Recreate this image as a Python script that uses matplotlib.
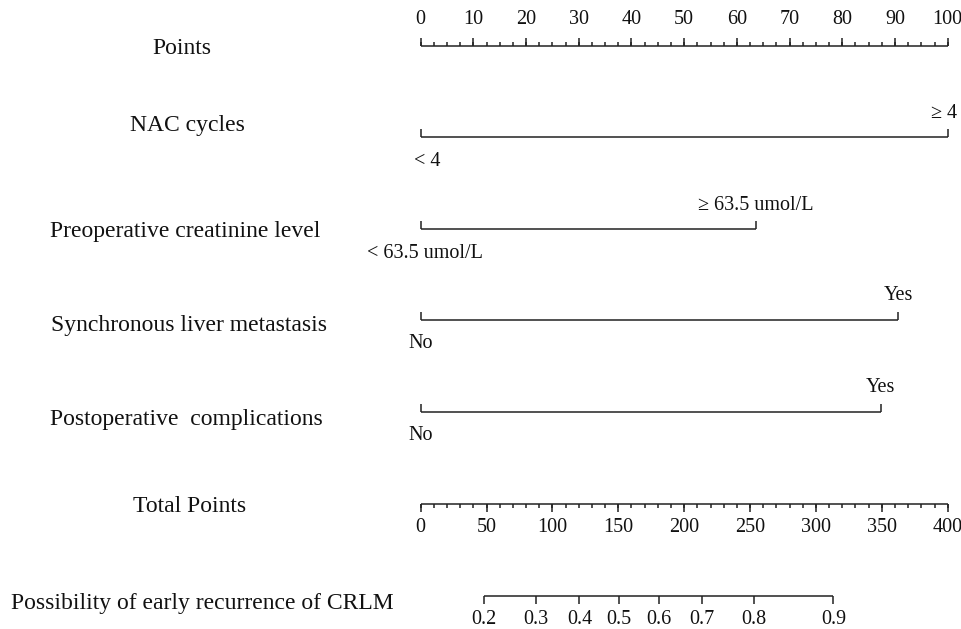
import numpy as np
import matplotlib
matplotlib.use("Agg")
import matplotlib.pyplot as plt

plt.rcParams['font.family'] = ['Liberation Serif', 'DejaVu Serif']

# ---------------- data ----------------
points_ticks = np.arange(0, 101, 10)
points_minor = np.arange(0, 100.1, 2.5)
total_ticks = np.arange(0, 401, 50)
total_minor = np.arange(0, 401, 10)
prob_ticks = [0.2, 0.3, 0.4, 0.5, 0.6, 0.7, 0.8, 0.9]

variables = ["NAC cycles", "Preoperative creatinine level",
             "Synchronous liver metastasis", "Postoperative  complications"]
level_low = ["< 4", "< 63.5 umol/L", "No", "No"]
level_high = ["\u2265 4", "\u2265 63.5 umol/L", "Yes", "Yes"]
points_low = [0, 0, 0, 0]
points_high = [100, 63.6, 90.6, 87.3]

# total points at p = 0.5 and total points per logit unit
lp_center = 150.5
lp_per_logit = 74.06

# ---------------- layout ----------------
W, H = 962, 629
X0, S = 420.7, 5.27          # pixel of 0 points, pixels per point
row_y = [46, 137, 229, 320, 412, 504, 596]
label_y = [48, 125, 231, 326, 420, 506, 603]
label_x = [182, 187, 185, 189.5, 186, 190, 202]
low_dx = [7, 4, 0, 0]
high_dx = [-4, 0, 0, 0]

def px2x(px):
    return (px - X0) / S

fig = plt.figure(figsize=(W / 100, H / 100), dpi=100)
ax = fig.add_axes([0, 0, 1, 1])
ax.set_xlim(px2x(0), px2x(W))
ax.set_ylim(H, 0)
ax.axis('off')

LC = '#222222'
LW = 1.1
FS_LAB = 17
FS_TICK = 14.5
TC = '#111111'

# Points axis
y = row_y[0]
ax.hlines(y, points_ticks[0], points_ticks[-1], color=LC, lw=LW)
ax.vlines(points_minor, y - 4, y, color=LC, lw=LW)
ax.vlines(points_ticks, y - 8, y, color=LC, lw=LW)
for t in points_ticks:
    ax.text(t, y - 26, f"{t:g}", ha='center', va='center', fontsize=FS_TICK, color=TC)

# variable axes
for i, name in enumerate(variables):
    y = row_y[i + 1]
    ax.hlines(y, points_low[i], points_high[i], color=LC, lw=LW)
    ax.vlines([points_low[i], points_high[i]], y - 8, y, color=LC, lw=LW)
    ax.text(points_low[i] + low_dx[i] / S, y + 24, level_low[i], ha='center', va='center',
            fontsize=FS_TICK, color=TC)
    ax.text(points_high[i] + high_dx[i] / S, y - 24, level_high[i], ha='center', va='center',
            fontsize=FS_TICK, color=TC)

# Total points axis (400 total = 100 points width)
y = row_y[5]
tx = total_ticks / 4.0
ax.hlines(y, tx[0], tx[-1], color=LC, lw=LW)
ax.vlines(total_minor / 4.0, y, y + 4, color=LC, lw=LW)
ax.vlines(tx, y, y + 8, color=LC, lw=LW)
for t, x in zip(total_ticks, tx):
    ax.text(x, y + 24, f"{t:g}", ha='center', va='center', fontsize=FS_TICK, color=TC)

# Probability axis
y = row_y[6]
p = np.array(prob_ticks)
ptot = lp_center + lp_per_logit * np.log(p / (1 - p))
px_ = ptot / 4.0
ax.hlines(y, px_[0], px_[-1], color=LC, lw=LW)
ax.vlines(px_, y, y + 8, color=LC, lw=LW)
for t, x in zip(prob_ticks, px_):
    ax.text(x, y + 23, f"{t:g}", ha='center', va='center', fontsize=FS_TICK, color=TC)

# left labels
labels = ["Points"] + variables + ["Total Points", "Possibility of early recurrence of CRLM"]
for lab, lx, ly in zip(labels, label_x, label_y):
    ax.text(px2x(lx), ly, lab, ha='center', va='center', fontsize=FS_LAB, color=TC)

fig.savefig("out.png", dpi=100, facecolor='white')
